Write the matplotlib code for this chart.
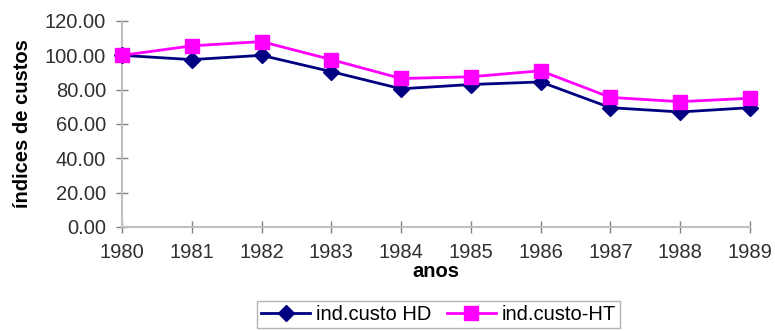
import matplotlib.pyplot as plt

plt.rcParams['font.family'] = ['Liberation Sans', 'DejaVu Sans']

anos = [1980, 1981, 1982, 1983, 1984, 1985, 1986, 1987, 1988, 1989]
custo_hd = [100.0, 97.5, 100.0, 90.5, 80.5, 83.0, 84.5, 69.5, 67.0, 69.5]
custo_ht = [100.0, 105.5, 108.0, 97.5, 86.5, 87.5, 91.0, 75.5, 73.0, 75.0]
y_ticks = [0, 20, 40, 60, 80, 100, 120]

fig = plt.figure(figsize=(7.75, 3.31), dpi=100)
ax = fig.add_axes([0.1574, 0.3142, 0.8103, 0.6224])

ax.plot(anos, custo_hd, color='#000080', lw=2, marker='D', ms=8,
        label='ind.custo HD', clip_on=False, zorder=3)
ax.plot(anos, custo_ht, color='#ff00ff', lw=2, marker='s', ms=10,
        label='ind.custo-HT', clip_on=False, zorder=4)

ax.set_xlim(1980, 1989)
ax.set_ylim(0, 120)
ax.set_xticks(anos)
ax.set_yticks(y_ticks)
ax.set_yticklabels([f'{v:.2f}' for v in y_ticks])

for side in ('top', 'right'):
    ax.spines[side].set_visible(False)
for side in ('left', 'bottom'):
    ax.spines[side].set_color('#c0c0c0')
    ax.spines[side].set_linewidth(1.5)
ax.tick_params(direction='inout', length=9, width=1, color='#808080',
               labelsize=14.5, labelcolor='#303030')
ax.tick_params(axis='y', pad=7)
ax.tick_params(axis='x', pad=7)

ax.set_xlabel('anos', fontsize=14.5, fontweight='bold', labelpad=0)
ax.set_ylabel('índices de custos', fontsize=14.5, fontweight='bold', labelpad=9)

leg = fig.legend(loc='upper center', bbox_to_anchor=(0.566, 0.09), ncol=2,
                 fontsize=14.5, frameon=True, fancybox=False,
                 borderaxespad=0, handlelength=2.4, columnspacing=0.8,
                 handletextpad=0.3, borderpad=0.2)
leg.get_frame().set_edgecolor('#a0a0a0')
leg.get_frame().set_linewidth(1)

fig.savefig('out.png', dpi=100)
